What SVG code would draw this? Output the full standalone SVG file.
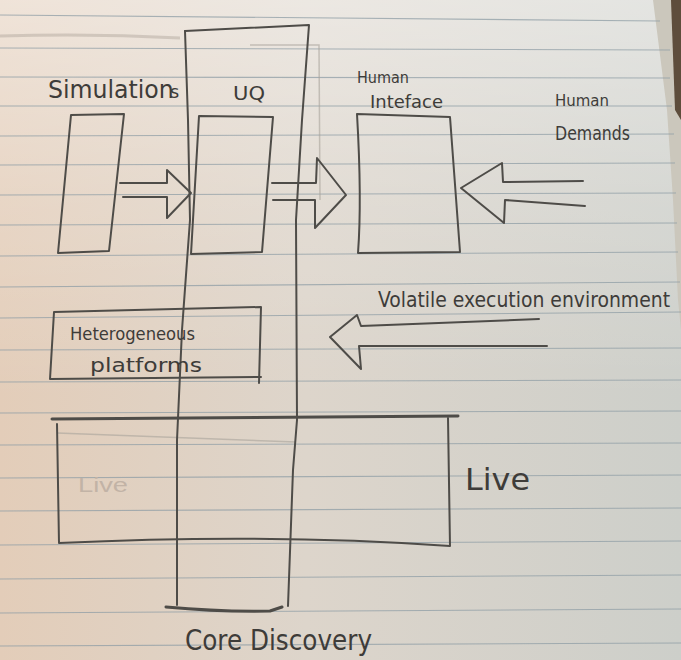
<svg xmlns="http://www.w3.org/2000/svg" width="681" height="660" viewBox="0 0 681 660">
  <defs>
    <linearGradient id="paperBase" x1="0" y1="0" x2="1" y2="0">
      <stop offset="0" stop-color="#e3cdb9"/>
      <stop offset="0.45" stop-color="#ddd5cb"/>
      <stop offset="1" stop-color="#cdcfca"/>
    </linearGradient>
    <linearGradient id="paperLight" x1="0" y1="0" x2="0" y2="1">
      <stop offset="0" stop-color="#ffffff" stop-opacity="0.45"/>
      <stop offset="0.5" stop-color="#ffffff" stop-opacity="0.18"/>
      <stop offset="1" stop-color="#ffffff" stop-opacity="0"/>
    </linearGradient>
    <style>
      .rule { stroke:#8f9ea6; stroke-width:1.1; stroke-opacity:0.75; fill:none; }
      .p { fill:none; stroke:#4e4c48; stroke-width:2; stroke-linecap:round; stroke-linejoin:round; }
      .thick { stroke-width:3; }
      .faint { fill:none; stroke:#a8a39b; stroke-width:1.5; stroke-opacity:0.6; }
      .hand { font-family:"Liberation Sans Narrow","DejaVu Sans Condensed","Liberation Sans",sans-serif; fill:#3e3c39; font-weight:normal; }
    </style>
  </defs>

  <!-- paper -->
  <rect width="681" height="660" fill="url(#paperBase)"/>
  <rect width="681" height="400" fill="url(#paperLight)"/>

  <!-- page stack at the right edge -->
  <polygon points="653,0 667,110 673,200 678,300 681,330 681,0" fill="#cbc7bc"/>
  <polygon points="671,0 675,110 681,120 681,0" fill="#5e4d3c"/>

  <!-- ruled lines -->
  <g id="ruling">
    <path class="rule" d="M0,15 L660,21"/>
    <path class="rule" d="M0,48 L670,50"/>
    <path class="rule" d="M0,77 L670,78"/>
    <path class="rule" d="M0,106 L672,106"/>
    <path class="rule" d="M0,136 L674,134"/>
    <path class="rule" d="M0,165 L675,163"/>
    <path class="rule" d="M0,195 L676,193"/>
    <path class="rule" d="M0,225 L677,223"/>
    <path class="rule" d="M0,256 L678,252"/>
    <path class="rule" d="M0,287 L680,282"/>
    <path class="rule" d="M0,318 L681,312"/>
    <path class="rule" d="M0,350 L681,348"/>
    <path class="rule" d="M0,382 L681,380"/>
    <path class="rule" d="M0,413 L681,411"/>
    <path class="rule" d="M0,445 L681,443"/>
    <path class="rule" d="M0,478 L681,475"/>
    <path class="rule" d="M0,511 L681,508"/>
    <path class="rule" d="M0,545 L681,541"/>
    <path class="rule" d="M0,579 L681,575"/>
    <path class="rule" d="M0,613 L681,609"/>
    <path class="rule" d="M0,646 L681,643"/>
  </g>

  <!-- erased pencil marks -->
  <path d="M0,36 Q90,33 180,38" fill="none" stroke="#b3aa9f" stroke-width="3" stroke-opacity="0.5"/>
  <path class="faint" d="M250,45 L319,45 L320,200"/>
  <path class="faint" d="M57,433 L296,442"/>

  <!-- Core Discovery column -->
  <g id="core-discovery">
    <path class="p" d="M185,31 L309,25 L302,120 L296,220 L297,420 L293,470 L288,606"/>
    <path class="p" d="M185,31 L188,120 L190,220 L182,330 L177,440 L177,605"/>
    <path class="p thick" d="M166,607 Q220,612 270,611 L282,607"/>
    <text class="hand" x="185" y="650" font-size="28" textLength="187" lengthAdjust="spacingAndGlyphs">Core Discovery</text>
  </g>

  <!-- Simulations -->
  <g id="simulations">
    <path class="p" d="M71,115 L124,114 L109,251 L58,253 Z"/>
    <text class="hand" x="48" y="98" font-size="24" textLength="135" lengthAdjust="spacingAndGlyphs">Simulation<tspan x="170" font-size="18">s</tspan></text>
  </g>

  <!-- UQ -->
  <g id="uq">
    <path class="p" d="M199,116 L273,117 L262,252 L191,254 Z"/>
    <text class="hand" x="233" y="100" font-size="19" textLength="32" lengthAdjust="spacingAndGlyphs">UQ</text>
  </g>

  <!-- Human Interface -->
  <g id="human-interface">
    <path class="p" d="M357,114 L450,117 L460,252 L358,253 Q362,200 357,114 Z"/>
    <text class="hand" x="357" y="83" font-size="16" textLength="52" lengthAdjust="spacingAndGlyphs">Human</text>
    <text class="hand" x="370" y="108" font-size="18" textLength="73" lengthAdjust="spacingAndGlyphs">Inteface</text>
  </g>

  <!-- Human Demands -->
  <g id="human-demands">
    <text class="hand" x="555" y="106" font-size="16" textLength="54" lengthAdjust="spacingAndGlyphs">Human</text>
    <text class="hand" x="555" y="140" font-size="19" textLength="75" lengthAdjust="spacingAndGlyphs">Demands</text>
  </g>

  <!-- Volatile execution environment -->
  <g id="volatile-environment">
    <text class="hand" x="378" y="307" font-size="21" textLength="292" lengthAdjust="spacingAndGlyphs">Volatile execution environment</text>
  </g>

  <!-- Heterogeneous platforms -->
  <g id="heterogeneous-platforms">
    <path class="p" d="M54,312 L261,307 L259,383 M261,377 L50,379 L54,312"/>
    <text class="hand" x="70" y="340" font-size="18" textLength="125" lengthAdjust="spacingAndGlyphs">Heterogeneous</text>
    <text class="hand" x="90" y="372" font-size="20" textLength="112" lengthAdjust="spacingAndGlyphs">platforms</text>
  </g>

  <!-- Live -->
  <g id="live">
    <path class="p thick" d="M52,419 L458,416"/>
    <path class="p" d="M57,424 L59,543 Q270,533 450,546 L448,418"/>
    <text x="78" y="492" font-size="20" textLength="50" lengthAdjust="spacingAndGlyphs" font-family="Liberation Sans Narrow,Liberation Sans,sans-serif" fill="#c2b3a6">Live</text>
    <text class="hand" x="465" y="490" font-size="31" textLength="65" lengthAdjust="spacingAndGlyphs">Live</text>
  </g>

  <!-- block arrows -->
  <g id="connectors">
    <path class="p" d="M120,183 L167,183 L167,170 L191,193 L167,218 L167,197 L123,197"/>
    <path class="p" d="M272,183 L316,183 L317,158 L346,195 L315,228 L315,200 L273,200"/>
    <path class="p" d="M583,181 L503,182 L502,163 L461,188 L504,223 L505,200 L585,206"/>
    <path class="p" d="M539,319 L361,326 L357,315 L330,337 L361,369 L359,346 L547,346"/>
  </g>
</svg>
